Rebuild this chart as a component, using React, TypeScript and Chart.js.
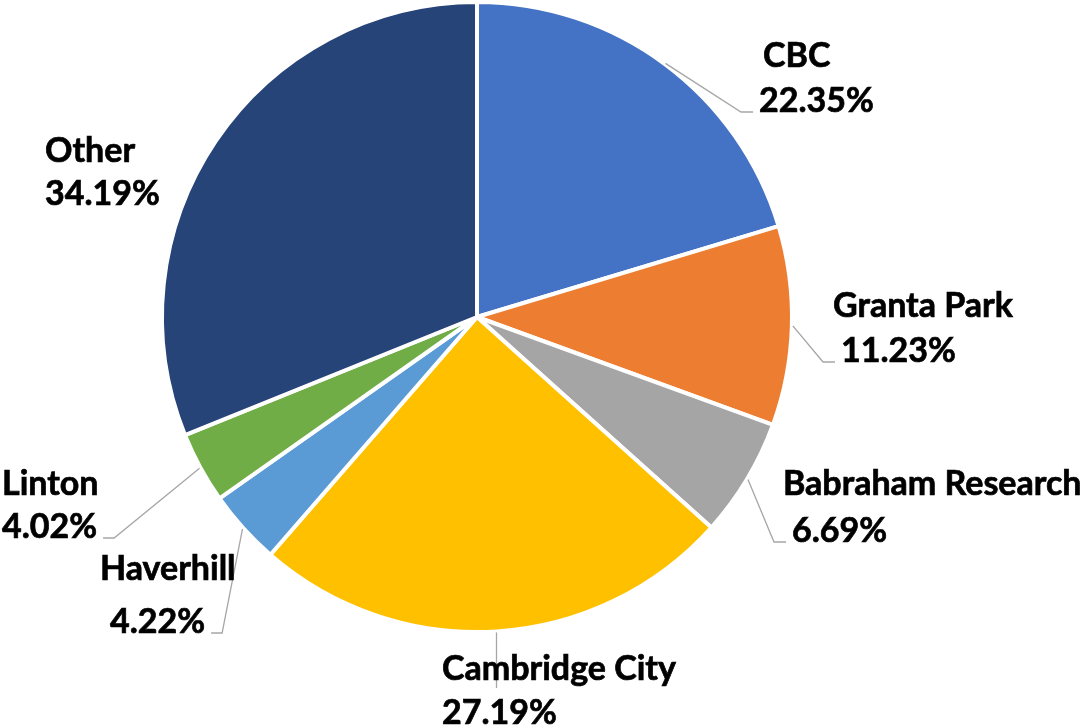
import React, { useEffect, useRef } from "react";
import { Chart, registerables } from "chart.js";

Chart.register(...registerables);

const categories: string[] = [
  "CBC",
  "Granta Park",
  "Babraham Research",
  "Cambridge City",
  "Haverhill",
  "Linton",
  "Other",
];
const shares: number[] = [22.35, 11.23, 6.69, 27.19, 4.22, 4.02, 34.19];
const sliceColors: string[] = [
  "#4472C4",
  "#ED7D31",
  "#A5A5A5",
  "#FFC000",
  "#5B9BD5",
  "#70AD47",
  "#264478",
];

// label annotation layout: [nameX, nameBaseline, pctX, pctBaseline]
const labelLayout: number[][] = [
  [763, 67, 759, 112],
  [833, 317, 841, 362],
  [783, 495, 792, 542],
  [442, 680, 442, 724],
  [100, 580, 110, 633],
  [2, 495, 2, 538],
  [45, 162, 45, 205],
];
// leader style per label
const leaderKind: string[] = ["right", "right", "right", "down", "left", "left", "none"];

const FONT = "bold 34px Lato";

const labelPlugin = {
  id: "pieLabels",
  afterDatasetsDraw(chart: any) {
    const ctx: CanvasRenderingContext2D = chart.ctx;
    const meta = chart.getDatasetMeta(0);
    ctx.save();
    ctx.font = FONT;
    meta.data.forEach((arc: any, i: number) => {
      const mid = (arc.startAngle + arc.endAngle) / 2;
      const r = arc.outerRadius + 1;
      const sx = arc.x + Math.cos(mid) * r;
      const sy = arc.y + Math.sin(mid) * r;
      const [nx, ny, px, py] = labelLayout[i];
      const pctText = shares[i].toFixed(2) + "%";
      const pw = ctx.measureText(pctText).width;
      const kind = leaderKind[i];
      ctx.strokeStyle = "#A6A6A6";
      ctx.lineWidth = 1.3;
      ctx.beginPath();
      if (kind === "right") {
        ctx.moveTo(sx, sy);
        ctx.lineTo(px - 18, py);
        ctx.lineTo(px - 6, py);
        ctx.stroke();
      } else if (kind === "left") {
        ctx.moveTo(sx, sy);
        ctx.lineTo(px + pw + 17, py);
        ctx.lineTo(px + pw + 6, py);
        ctx.stroke();
      } else if (kind === "down") {
        ctx.moveTo(sx, sy);
        ctx.lineTo(sx, ny + 8);
        ctx.stroke();
      }
      ctx.fillStyle = "#000000";
      ctx.strokeStyle = "#000000";
      ctx.lineWidth = 0.7;
      ctx.textAlign = "left";
      ctx.textBaseline = "alphabetic";
      ctx.fillText(categories[i], nx, ny);
      ctx.strokeText(categories[i], nx, ny);
      ctx.fillText(pctText, px, py);
      ctx.strokeText(pctText, px, py);
    });
    ctx.restore();
  },
};

export default function App() {
  const ref = useRef<HTMLCanvasElement | null>(null);
  useEffect(() => {
    if (!ref.current) return;
    const chart = new Chart(ref.current, {
      type: "pie",
      data: {
        labels: categories,
        datasets: [
          {
            data: shares,
            backgroundColor: sliceColors,
            borderColor: "#FFFFFF",
            borderWidth: 4,
            hoverBorderWidth: 4,
            hoverOffset: 0,
          },
        ],
      },
      options: {
        responsive: false,
        animation: false,
        layout: { padding: { left: 160, top: 0, right: 297, bottom: 93 } },
        plugins: {
          legend: { display: false },
          tooltip: { enabled: false },
        },
        events: [],
      },
      plugins: [labelPlugin],
    });
    return () => chart.destroy();
  }, []);
  return (
    <div style={{ position: "absolute", left: 0, top: 0, width: 1091, height: 727, background: "#fff" }}>
      <canvas ref={ref} width={1091} height={727} />
    </div>
  );
}
